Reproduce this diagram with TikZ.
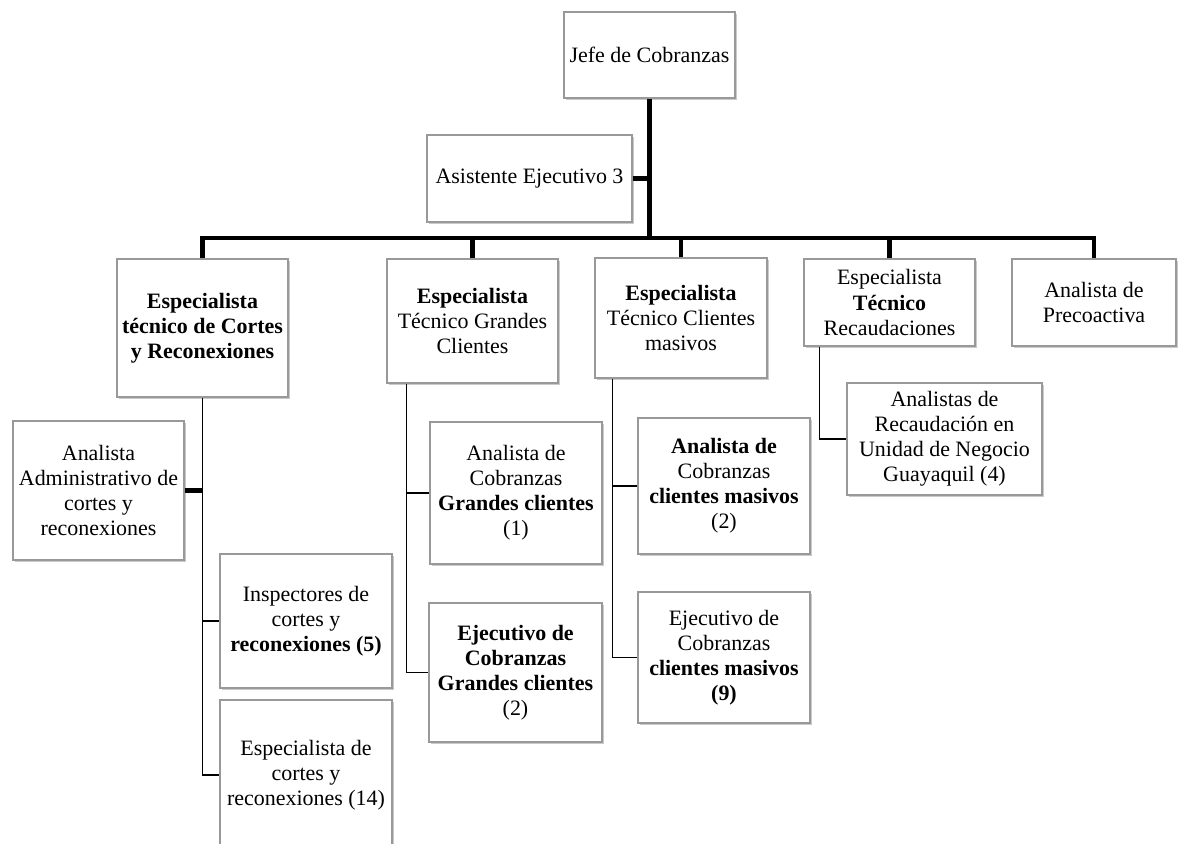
\documentclass[tikz,border=0pt]{standalone}
\usepackage{fontspec}
\setmainfont{Liberation Serif}
\usetikzlibrary{calc,shadows}
\tikzset{
  bx/.style={rectangle,draw=black!40,fill=white,line width=.7pt,align=center,inner sep=2pt,
    font=\fontsize{12.5}{14.3}\selectfont,
    drop shadow={shadow xshift=.9pt,shadow yshift=-1.2pt,fill=black!35,opacity=.6}},
  trk/.style={draw=black,line width=2.3pt},
  lnk/.style={draw=black,line width=1pt},
}

\begin{document}
\begin{tikzpicture}[x=0.02cm,y=-0.02cm]
\clip (0,0) rectangle (1178,843);
% ---- top
\node[bx,minimum width=3.42cm,minimum height=1.72cm] (jefe) at (649.5,55) {Jefe de Cobranzas};
\node[bx,minimum width=4.1cm,minimum height=1.74cm] (asis) at (529.5,178.5) {Asistente Ejecutivo 3};
% ---- second row
\node[bx,minimum width=3.42cm,minimum height=2.76cm] (cortes) at (202.5,328)
  {\bfseries Especialista\\\bfseries técnico de Cortes\\\bfseries y Reconexiones};
\node[bx,minimum width=3.42cm,minimum height=2.48cm] (grandes) at (472.5,321)
  {\bfseries Especialista\\Técnico Grandes\\Clientes};
\node[bx,minimum width=3.44cm,minimum height=2.4cm] (masivos) at (681,318)
  {\bfseries Especialista\\Técnico Clientes\\masivos};
\node[bx,minimum width=3.42cm,minimum height=1.74cm] (recaud) at (889.5,302.5)
  {Especialista\\\bfseries Técnico\\Recaudaciones};
\node[bx,minimum width=3.28cm,minimum height=1.74cm] (preco) at (1094,302.5)
  {Analista de\\Precoactiva};
% ---- third row
\node[bx,minimum width=3.42cm,minimum height=2.78cm] (admin) at (98.5,490.5)
  {Analista\\Administrativo de\\cortes y\\reconexiones};
\node[bx,minimum width=3.44cm,minimum height=2.68cm] (insp) at (306,621)
  {Inspectores de\\cortes y\\\bfseries reconexiones (5)};
\node[bx,minimum width=3.44cm,minimum height=3.0cm] (espc) at (306,775)
  {Especialista de\\cortes y\\reconexiones (14)};
\node[bx,minimum width=3.44cm,minimum height=2.84cm] (agc) at (516,493)
  {Analista de\\Cobranzas\\\bfseries Grandes clientes\\(1)};
\node[bx,minimum width=3.46cm,minimum height=2.78cm] (egc) at (515.5,672.5)
  {\bfseries Ejecutivo de\\\bfseries Cobranzas\\\bfseries Grandes clientes\\(2)};
\node[bx,minimum width=3.44cm,minimum height=2.72cm] (amc) at (724,486)
  {\bfseries Analista de\\Cobranzas\\\bfseries clientes masivos\\(2)};
\node[bx,minimum width=3.44cm,minimum height=2.62cm] (emc) at (724,657.5)
  {Ejecutivo de\\Cobranzas\\\bfseries clientes masivos\\\bfseries (9)};
\node[bx,minimum width=3.9cm,minimum height=2.24cm] (arec) at (944.5,439)
  {Analistas de\\Recaudación en\\Unidad de Negocio\\Guayaquil (4)};
% ---- thick lines
\coordinate (bar) at (650,238);
\draw[trk] (jefe.south) -- (jefe.south |- bar);
\draw[trk] (asis.east) -- (asis.east -| jefe.south);
\draw[trk] (cortes.north) |- (preco.north |- bar) -- (preco.north);
\foreach \n in {grandes,masivos,recaud}
  \draw[trk] (\n.north) -- (\n.north |- bar);
\draw[trk] (admin.east) -- (admin.east -| cortes.south);
% ---- thin lines
\draw[lnk] (cortes.south) |- (espc.west);
\draw[lnk] (cortes.south |- insp.west) -- (insp.west);
\draw[lnk] ($(grandes.south west)+(20,0)$) coordinate (g0) |- (egc.west);
\draw[lnk] (g0 |- agc.west) -- (agc.west);
\draw[lnk] ($(masivos.south west)+(18,0)$) coordinate (m0) |- (emc.west);
\draw[lnk] (m0 |- amc.west) -- (amc.west);
\draw[lnk] ($(recaud.south west)+(16,0)$) |- (arec.west);
\end{tikzpicture}
\end{document}
